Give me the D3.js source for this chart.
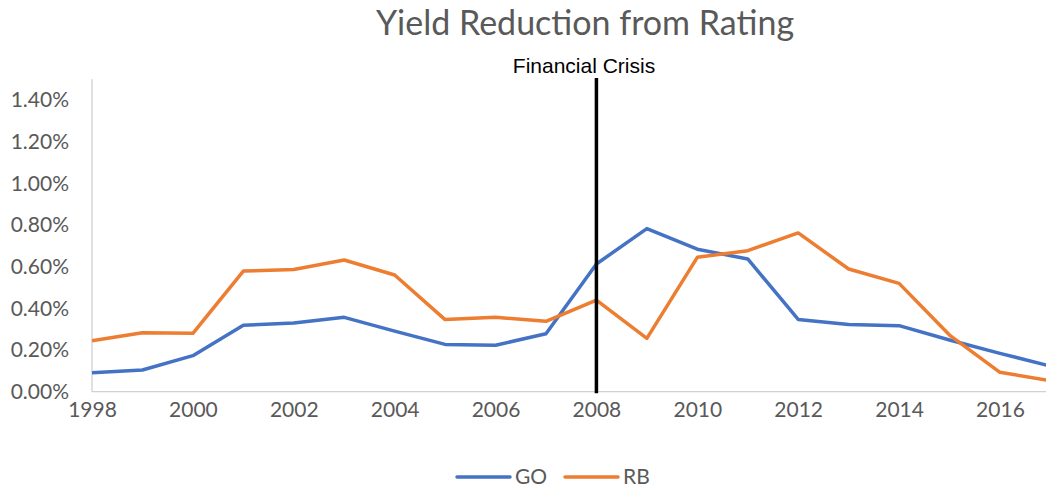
<!DOCTYPE html>
<html>
<head>
<meta charset="utf-8">
<script src="https://cdn.jsdelivr.net/npm/d3@7"></script>
<style>
  body { margin: 0; background: #fff; }
  svg { display: block; }
</style>
</head>
<body>
<div id="chart"></div>
<script>
// data (percent values)
var years = [1998, 1999, 2000, 2001, 2002, 2003, 2004, 2005, 2006, 2007,
             2008, 2009, 2010, 2011, 2012, 2013, 2014, 2015, 2016, 2017];
var goValues = [0.091, 0.104, 0.173, 0.319, 0.330, 0.357, 0.291, 0.227, 0.223, 0.278,
                0.613, 0.783, 0.684, 0.637, 0.347, 0.323, 0.317, 0.248, 0.184, 0.123];
var rbValues = [0.245, 0.283, 0.280, 0.579, 0.587, 0.632, 0.560, 0.346, 0.357, 0.338,
                0.440, 0.256, 0.645, 0.677, 0.762, 0.589, 0.520, 0.272, 0.093, 0.053];
var yTicks = [0, 0.2, 0.4, 0.6, 0.8, 1.0, 1.2, 1.4];
var xTicks = [1998, 2000, 2002, 2004, 2006, 2008, 2010, 2012, 2014, 2016];
var crisisYear = 2008;

var series = [
  {name: "GO", values: goValues, color: "#4472C4"},
  {name: "RB", values: rbValues, color: "#ED7D31"}
];

var W = 1046, H = 488;
var svg = d3.select("#chart").append("svg")
    .attr("width", W)
    .attr("height", H);

var x = d3.scaleLinear()
    .domain([1998, 2017])
    .range([92, 1050.4]);

var y = d3.scaleLinear()
    .domain([0, 1.5])
    .range([391.7, 79.2]);

var font = "Lato, 'Open Sans', sans-serif";

// title
svg.append("text")
    .attr("x", 585)
    .attr("y", 35)
    .attr("text-anchor", "middle")
    .style("font-family", font)
    .style("font-size", "34px")
    .style("fill", "#595959")
    .text("Yield Reduction from Rating");

// y axis
var yAxis = svg.append("g")
    .attr("transform", "translate(92,0)")
    .call(d3.axisLeft(y).tickValues(yTicks).tickSize(0).tickPadding(23)
      .tickFormat(function(d) { return d.toFixed(2) + "%"; }));
yAxis.select(".domain").remove();
yAxis.selectAll("text")
    .style("font-family", font)
    .style("font-size", "21px")
    .style("fill", "#595959");
svg.append("line")
    .attr("x1", 92).attr("x2", 92)
    .attr("y1", y(1.5)).attr("y2", y(0))
    .attr("stroke", "#d0d0d0")
    .attr("stroke-width", 1.3);

// x axis
var xAxis = svg.append("g")
    .attr("transform", "translate(0," + y(0) + ")")
    .call(d3.axisBottom(x).tickValues(xTicks).tickSize(0).tickPadding(10)
      .tickFormat(d3.format("d")));
xAxis.select(".domain").remove();
xAxis.selectAll("text")
    .style("font-family", font)
    .style("font-size", "21px")
    .style("fill", "#595959");
svg.append("line")
    .attr("x1", 92).attr("x2", W)
    .attr("y1", y(0)).attr("y2", y(0))
    .attr("stroke", "#d0d0d0")
    .attr("stroke-width", 1.3);

// lines
var line = d3.line()
    .x(function(d, i) { return x(years[i]); })
    .y(function(d) { return y(d); });

svg.selectAll(".series")
  .data(series)
  .enter()
  .append("path")
    .attr("class", "series")
    .attr("d", function(d) { return line(d.values); })
    .attr("fill", "none")
    .attr("stroke", function(d) { return d.color; })
    .attr("stroke-width", 3.5)
    .attr("stroke-linejoin", "round");

// financial crisis marker
svg.append("line")
    .attr("x1", x(crisisYear)).attr("x2", x(crisisYear))
    .attr("y1", 78).attr("y2", y(0) + 1.5)
    .attr("stroke", "#000")
    .attr("stroke-width", 3.5);
svg.append("text")
    .attr("x", 584)
    .attr("y", 73)
    .attr("text-anchor", "middle")
    .style("font-family", "'Liberation Sans', Arial, sans-serif")
    .style("font-size", "21px")
    .style("fill", "#000")
    .text("Financial Crisis");

// legend
var legend = svg.selectAll(".legend")
  .data(series)
  .enter()
  .append("g")
    .attr("class", "legend")
    .attr("transform", function(d, i) { return "translate(" + (457 + i * 108) + ",477)"; });
legend.append("line")
    .attr("x1", 0).attr("x2", 53)
    .attr("stroke", function(d) { return d.color; })
    .attr("stroke-width", 3.5)
    .attr("stroke-linecap", "round");
legend.append("text")
    .attr("x", 58)
    .attr("dy", "0.35em")
    .style("font-family", font)
    .style("font-size", "21px")
    .style("fill", "#595959")
    .text(function(d) { return d.name; });
</script>
</body>
</html>
